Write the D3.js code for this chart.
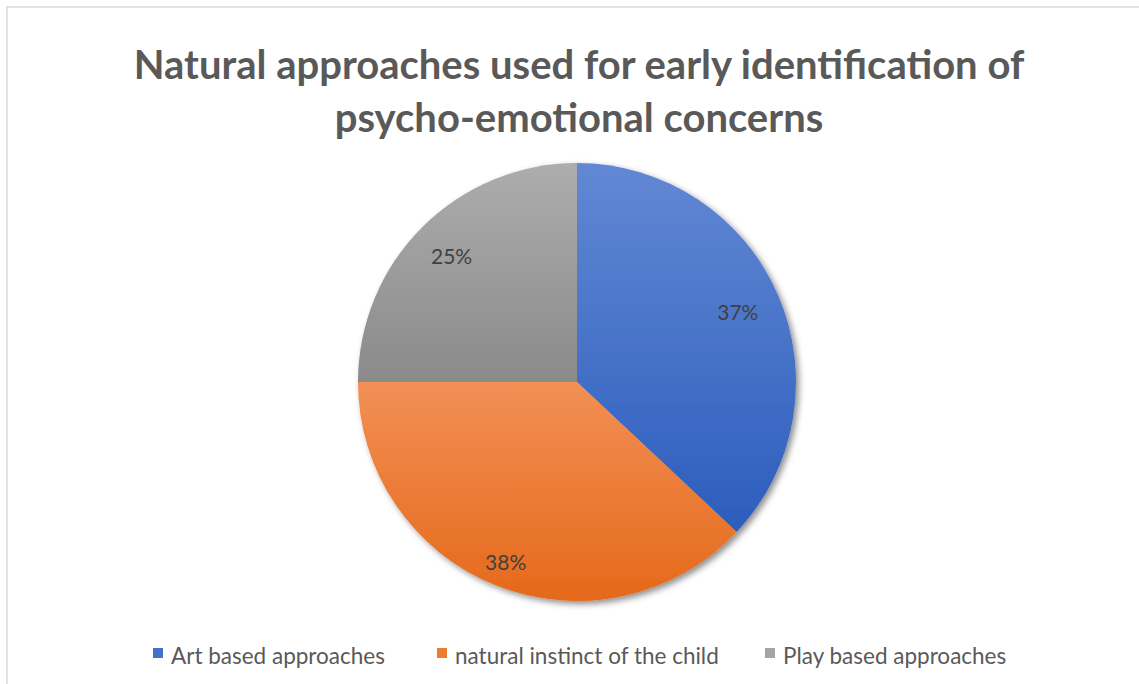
<!DOCTYPE html>
<html>
<head>
<meta charset="utf-8">
<script src="https://cdn.jsdelivr.net/npm/d3@7"></script>
<style>
  body { margin: 0; background: #fff; }
  text { font-family: Lato, "Open Sans", sans-serif; }
</style>
</head>
<body>
<div id="container"></div>
<script>
/*
    Chart data
*/
var categories = ["Art based approaches", "natural instinct of the child", "Play based approaches"];
var values = [37, 38, 25];
var labels = ["37%", "38%", "25%"];
var titleLines = ["Natural approaches used for early identification of", "psycho-emotional concerns"];

var topColors = ["#6288d4", "#f28f55", "#adadad"];
var bottomColors = ["#2c5dbd", "#e5691a", "#8a8a8a"];
var legendColors = ["#4472c4", "#ed7d31", "#a5a5a5"];

var width = 1139, height = 684;
var cx = 577, cy = 382, r = 219;
// label distance from centre, as a share of the radius
var labelRadius = [0.8, 0.885, 0.81];

var svg = d3.select("#container").append("svg")
    .attr("width", width)
    .attr("height", height);

var defs = svg.append("defs");

// one vertical gradient per slice
categories.forEach(function (c, i) {
    var g = defs.append("linearGradient")
        .attr("id", "grad" + i)
        .attr("x1", 0).attr("y1", 0).attr("x2", 0).attr("y2", 1);
    g.append("stop").attr("offset", "0%").attr("stop-color", topColors[i]);
    g.append("stop").attr("offset", "100%").attr("stop-color", bottomColors[i]);
});

var shadow = defs.append("filter").attr("id", "shadow")
    .attr("x", "-10%").attr("y", "-10%").attr("width", "125%").attr("height", "125%");
shadow.append("feDropShadow")
    .attr("dx", 3).attr("dy", 3).attr("stdDeviation", 3)
    .attr("flood-color", "#000").attr("flood-opacity", 0.45);

// chart border
svg.append("rect")
    .attr("x", 7).attr("y", 7)
    .attr("width", width + 10).attr("height", height + 10)
    .attr("fill", "none")
    .attr("stroke", "#d9d9d9")
    .attr("stroke-width", 1.5);

// title
svg.selectAll(".title")
    .data(titleLines)
    .enter().append("text")
    .attr("class", "title")
    .attr("x", 579)
    .attr("y", function (d, i) { return 79 + i * 53; })
    .attr("text-anchor", "middle")
    .attr("font-size", 40)
    .attr("font-weight", "bold")
    .attr("fill", "#595959")
    .text(function (d) { return d; });

var pie = d3.pie().sort(null).value(function (d) { return d; });
var arcs = pie(values);
var arc = d3.arc().innerRadius(0).outerRadius(r);

var g = svg.append("g").attr("transform", "translate(" + cx + "," + cy + ")");

g.append("g").attr("filter", "url(#shadow)")
    .selectAll("path")
    .data(arcs)
    .enter().append("path")
    .attr("d", arc)
    .attr("fill", function (d, i) { return "url(#grad" + i + ")"; });

g.selectAll(".lbl")
    .data(arcs)
    .enter().append("text")
    .attr("class", "lbl")
    .attr("transform", function (d, i) {
        var lr = r * labelRadius[i];
        return "translate(" + d3.arc().innerRadius(lr).outerRadius(lr).centroid(d) + ")";
    })
    .attr("text-anchor", "middle")
    .attr("dy", "0.35em")
    .attr("font-size", 21)
    .attr("fill", "#404040")
    .text(function (d, i) { return labels[i]; });

// legend
var legendX = [153, 437, 765];
var legend = svg.selectAll(".legend")
    .data(categories)
    .enter().append("g")
    .attr("class", "legend")
    .attr("transform", function (d, i) { return "translate(" + legendX[i] + ",648)"; });

legend.append("rect")
    .attr("width", 10).attr("height", 10)
    .attr("fill", function (d, i) { return legendColors[i]; });

legend.append("text")
    .attr("x", 18).attr("y", 16)
    .attr("font-size", 22.5)
    .attr("fill", "#595959")
    .text(function (d) { return d; });
</script>
</body>
</html>
